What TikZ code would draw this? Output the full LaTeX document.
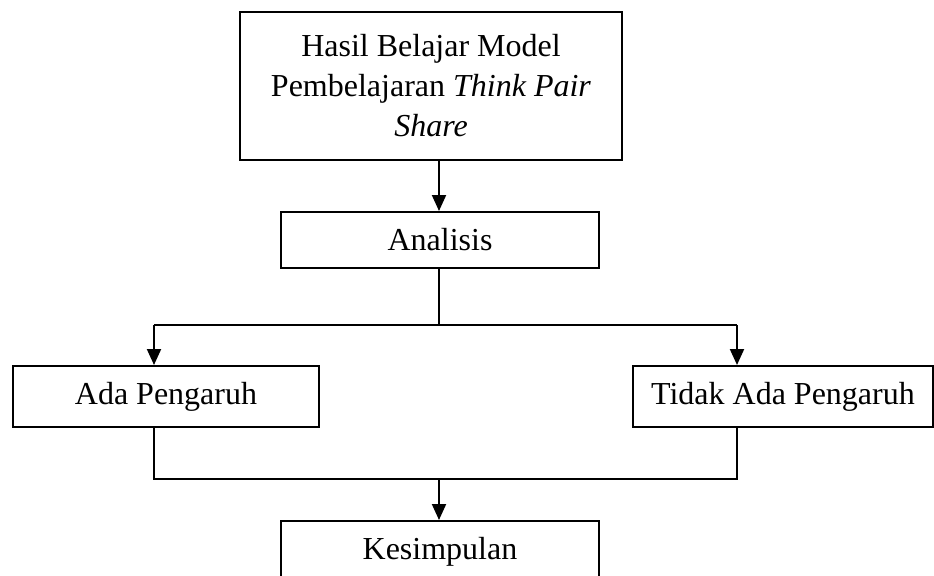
\documentclass[tikz,border=0pt]{standalone}
\usepackage{fontspec}
\setmainfont{Liberation Serif}
\usetikzlibrary{arrows.meta}
\begin{document}
\begin{tikzpicture}[x=0.75pt,y=-0.75pt,
  every node/.style={font=\fontsize{24}{30}\selectfont},
  box/.style={draw,line width=1.5pt,inner sep=0pt,align=center},
  conn/.style={line width=1.5pt},
  arr/.style={line width=1.5pt,-{Triangle[length=12pt,width=10.5pt]}}]
\useasboundingbox (0,0) rectangle (934,575);
\clip (0,0) rectangle (934,575);
\node[box,minimum width=286.5pt,minimum height=111pt] (top) at (431,86)
  {Hasil Belajar Model\\Pembelajaran \textit{Think Pair}\\\textit{Share}};
\node[box,minimum width=238.5pt,minimum height=42pt] (anal) at (440,240) {Analisis};
\node[box,minimum width=229.5pt,minimum height=45.75pt] (ada) at (166,396.5) {Ada Pengaruh};
\node[box,minimum width=225pt,minimum height=45.75pt] (tidak) at (783,396.5) {Tidak Ada Pengaruh};
\node[box,minimum width=238.5pt,minimum height=45.75pt] (kes) at (440,551.5) {Kesimpulan};
\coordinate (a) at (439,0);
\coordinate (sm) at (439,325);
\coordinate (sl) at (154,325);
\coordinate (sr) at (737,325);
\coordinate (jl) at (154,479);
\coordinate (jr) at (737,479);
\coordinate (jm) at (439,479);
\draw[arr] (a |- top.south) -- (a |- anal.north);
\draw[conn] (a |- anal.south) -- (sm);
\draw[conn] (sl) -- (sr);
\draw[arr] (sl) -- (sl |- ada.north);
\draw[arr] (sr) -- (sr |- tidak.north);
\draw[conn] (sl |- ada.south) -- (jl) -- (jr) -- (sr |- tidak.south);
\draw[arr] (jm) -- (jm |- kes.north);
\end{tikzpicture}
\end{document}
